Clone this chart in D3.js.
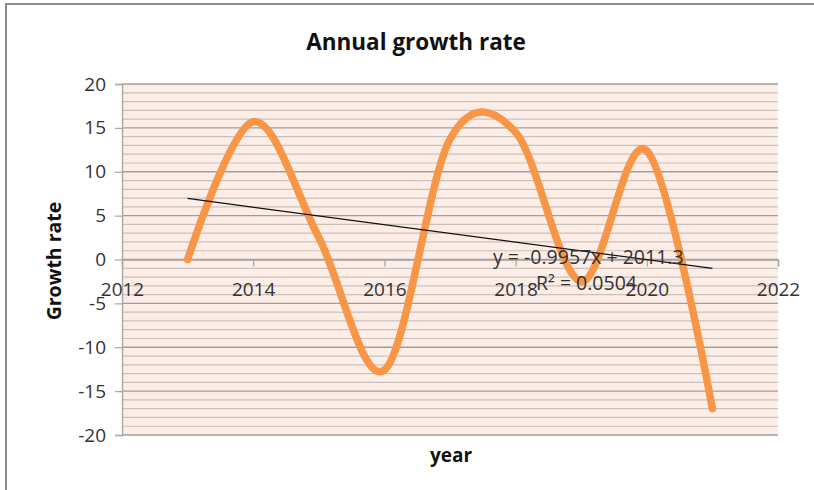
<!DOCTYPE html>
<html>
<head>
<meta charset="utf-8">
<script src="https://cdn.jsdelivr.net/npm/d3@7"></script>
<style>
  html, body { margin: 0; padding: 0; background: #fff; }
  svg { display: block; }
  text { font-family: "Open Sans", "Noto Sans", sans-serif; }
</style>
</head>
<body>
<svg id="chart" width="814" height="490"></svg>
<script>
const years = [2013, 2014, 2015, 2016, 2017, 2018, 2019, 2020, 2021];
const growth = [0, 15.7, 2.5, -12.6, 13.7, 14.5, -2.5, 12.4, -17.0];
const xTicks = [2012, 2014, 2016, 2018, 2020, 2022];
const yTicks = [-20, -15, -10, -5, 0, 5, 10, 15, 20];
const trendSlope = -0.9957;
const trendIntercept = 2011.3;
const trendLabel = "y = -0.9957x + 2011.3";
const r2Label = "R\u00B2 = 0.0504";
const titleText = "Annual growth rate";
const xTitle = "year";
const yTitle = "Growth rate";

const svg = d3.select("#chart");
const W = 814, H = 490;
const x = d3.scaleLinear().domain([2012, 2022]).range([122, 778]);
const y = d3.scaleLinear().domain([-20, 20]).range([435, 84]);

// outer frame (top and left visible)
svg.append("rect").attr("x", 6).attr("y", 4).attr("width", W + 20).attr("height", H + 20)
  .attr("fill", "#fff").attr("stroke", "#8c8c8c").attr("stroke-width", 2);

// plot background
svg.append("rect").attr("x", x(2012)).attr("y", y(20))
  .attr("width", x(2022) - x(2012)).attr("height", y(-20) - y(20))
  .attr("fill", "#fdede7");

// minor grid lines every 1
const minor = d3.range(-20, 21, 1).filter(v => v % 5 !== 0);
svg.append("g").selectAll("line").data(minor).join("line")
  .attr("x1", x(2012)).attr("x2", x(2022))
  .attr("y1", d => y(d)).attr("y2", d => y(d))
  .attr("stroke", "#c9c1bd").attr("stroke-width", 1.2);

// major grid lines
svg.append("g").selectAll("line").data(yTicks).join("line")
  .attr("x1", x(2012)).attr("x2", x(2022))
  .attr("y1", d => y(d)).attr("y2", d => y(d))
  .attr("stroke", "#a29d9b").attr("stroke-width", 1.4);

// y axis
const yAxis = svg.append("g").attr("transform", `translate(${x(2012)},0)`)
  .call(d3.axisLeft(y).tickValues(yTicks).tickSize(7).tickPadding(9).tickFormat(d3.format("d")));
yAxis.select(".domain").attr("stroke", "#a6a6a6").attr("stroke-width", 1.4);
yAxis.selectAll(".tick line").attr("stroke", "#a6a6a6").attr("stroke-width", 1.2);
yAxis.selectAll(".tick text").attr("font-size", 19).attr("fill", "#333")
  .attr("font-family", "'Open Sans', sans-serif").text(d => d < 0 ? "-" + Math.abs(d) : d);

// x axis at y = 0
const xAxis = svg.append("g").attr("transform", `translate(0,${y(0)})`)
  .call(d3.axisBottom(x).tickValues(xTicks).tickSize(7).tickPadding(16).tickFormat(d3.format("d")));
xAxis.select(".domain").attr("stroke", "#a6a6a6").attr("stroke-width", 1.4);
xAxis.selectAll(".tick line").attr("stroke", "#a6a6a6").attr("stroke-width", 1.2);
xAxis.selectAll(".tick text").attr("font-size", 19).attr("fill", "#333")
  .attr("font-family", "'Open Sans', sans-serif");

// data line (smoothed)
const pts = years.map((yr, i) => [yr, growth[i]]);
const line = d3.line().x(d => x(d[0])).y(d => y(d[1])).curve(d3.curveCardinal.tension(0));
svg.append("path").datum(pts).attr("d", line)
  .attr("fill", "none").attr("stroke", "#f79646").attr("stroke-width", 7.5)
  .attr("stroke-linecap", "round").attr("stroke-linejoin", "round");

// trendline
const t0 = years[0], t1 = years[years.length - 1];
svg.append("line")
  .attr("x1", x(t0)).attr("y1", y(trendSlope * t0 + trendIntercept))
  .attr("x2", x(t1)).attr("y2", y(trendSlope * t1 + trendIntercept))
  .attr("stroke", "#111").attr("stroke-width", 1.2);

// trendline labels
svg.append("text").attr("x", 493).attr("y", 264).attr("font-size", 19.5).attr("fill", "#333")
  .text(trendLabel);
svg.append("text").attr("x", 536).attr("y", 290).attr("font-size", 19.5).attr("fill", "#333")
  .text(r2Label);

// title
svg.append("text").attr("x", 416).attr("y", 50).attr("text-anchor", "middle")
  .attr("font-size", 22.5).attr("font-weight", "bold").attr("fill", "#111")
  .text(titleText);

// axis titles
svg.append("text").attr("x", 451).attr("y", 462).attr("text-anchor", "middle")
  .attr("font-size", 19).attr("font-weight", "bold").attr("fill", "#111")
  .text(xTitle);
svg.append("text").attr("transform", `translate(61,261) rotate(-90)`).attr("text-anchor", "middle")
  .attr("font-size", 19.5).attr("font-weight", "bold").attr("fill", "#111")
  .text(yTitle);
</script>
</body>
</html>
